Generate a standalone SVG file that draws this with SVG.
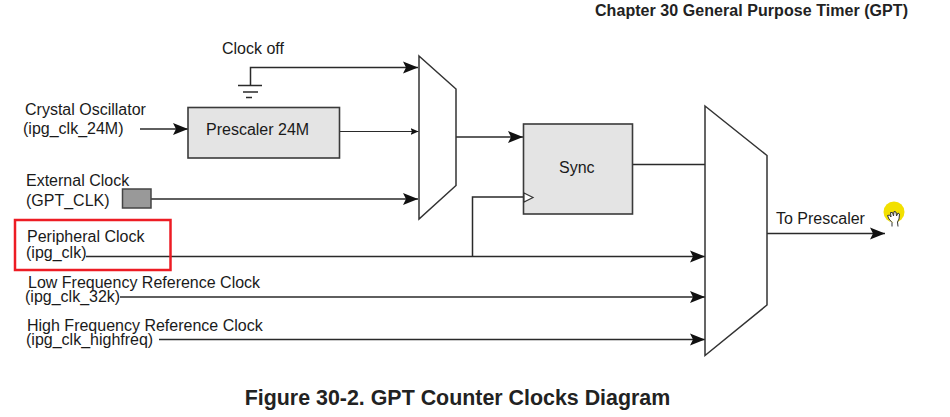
<svg xmlns="http://www.w3.org/2000/svg" width="950" height="417" viewBox="0 0 950 417">
<style>
text{font-family:"Liberation Sans",Arial,sans-serif;font-size:16px;fill:#1a1a1a}
.b{font-weight:bold;fill:#222}
.w{fill:none;stroke:#2a2a2a;stroke-width:1.5}
.box{fill:#e4e4e4;stroke:#3a3a3a;stroke-width:1.6}
.mux{fill:#fff;stroke:#333;stroke-width:1.5}
</style>
<defs>
<marker id="a" markerUnits="userSpaceOnUse" markerWidth="16" markerHeight="13" refX="15" refY="6.500" orient="auto"><path d="M0,0.500L15,6.500L0,12.500L3,6.500Z" fill="#111"/></marker>
<marker id="s" markerUnits="userSpaceOnUse" markerWidth="10" markerHeight="8" refX="8" refY="4" orient="auto"><path d="M0,0.500L8,4L0,7.500L1.500,4Z" fill="#111"/></marker>
</defs>
<rect width="950" height="417" fill="#fff"/>
<text class="b" x="908" y="16" text-anchor="end" textLength="313">Chapter 30 General Purpose Timer (GPT)</text>
<g id="connectors">
<path class="w" d="M250.500,85V67.500H418" marker-end="url(#a)"/>
<path class="w" d="M140,129H188" marker-end="url(#a)"/>
<path class="w" style="stroke-width:1" d="M339.500,131.500H418.500" marker-end="url(#s)"/>
<path class="w" d="M151,199H418" marker-end="url(#a)"/>
<path class="w" d="M456,137H523" marker-end="url(#a)"/>
<path class="w" d="M632.500,164.500H705"/>
<path class="w" d="M86,256.500H705" marker-end="url(#a)"/>
<path class="w" d="M472.500,256.500V197H524"/>
<path class="w" d="M120,297H705" marker-end="url(#a)"/>
<path class="w" d="M159,339.500H705" marker-end="url(#a)"/>
<path class="w" d="M767,233.500H885" marker-end="url(#a)"/>
</g>
<g id="clock-off"><text x="222" y="54">Clock off</text>
<path class="w" d="M238,85.500H262M243,92H258M246,97.500H252"/></g>
<g id="crystal"><text x="25" y="115">Crystal Oscillator</text><text x="23" y="134">(ipg_clk_24M)</text></g>
<g id="prescaler"><rect class="box" x="188" y="107.500" width="151.500" height="50.500"/><text x="206" y="135">Prescaler 24M</text></g>
<g id="external"><text x="26" y="186">External Clock</text><text x="26" y="206">(GPT_CLK)</text>
<rect x="122.500" y="189" width="28.500" height="19" fill="#999" stroke="#444" stroke-width="1.500"/></g>
<g id="mux1"><path class="mux" d="M419,56L456,89V185.500L419,219Z"/></g>
<g id="sync"><rect class="box" x="523.500" y="124" width="109" height="90"/><text x="559" y="173">Sync</text>
<path d="M524,193L533,197.500L524,202Z" fill="#fff" stroke="#333" stroke-width="1.200"/></g>
<g id="mux2"><path class="mux" d="M705,106L767,155.500V305L705,355.500Z"/></g>
<g id="peripheral"><text x="27" y="242">Peripheral Clock</text><text x="26" y="258">(ipg_clk)</text></g>
<g id="low"><text x="28" y="287.500">Low Frequency Reference Clock</text><text x="25" y="302">(ipg_clk_32k)</text></g>
<g id="high"><text x="27" y="331">High Frequency Reference Clock</text><text x="26" y="345">(ipg_clk_highfreq)</text></g>
<g id="output"><text x="776" y="224">To Prescaler</text></g>
<rect x="15" y="220" width="155.500" height="50" fill="none" stroke="#ed1c24" stroke-width="2.500"/>
<circle cx="894" cy="212" r="10.500" fill="#f2e000"/>
<path d="M889,219L887.500,215.500L889.500,215L891,217L890.500,212.500L892.500,212.500L893.500,216L894,211.500L896,212L896.500,216L898,213L899.500,214L899,219L897.500,222L898,226.500M889,219L892,222.500L892,226.500" fill="#fff" stroke="#333" stroke-width="1"/>
<text class="b" x="457.500" y="405" text-anchor="middle" style="font-size:21.400px">Figure 30-2. GPT Counter Clocks Diagram</text>
</svg>
